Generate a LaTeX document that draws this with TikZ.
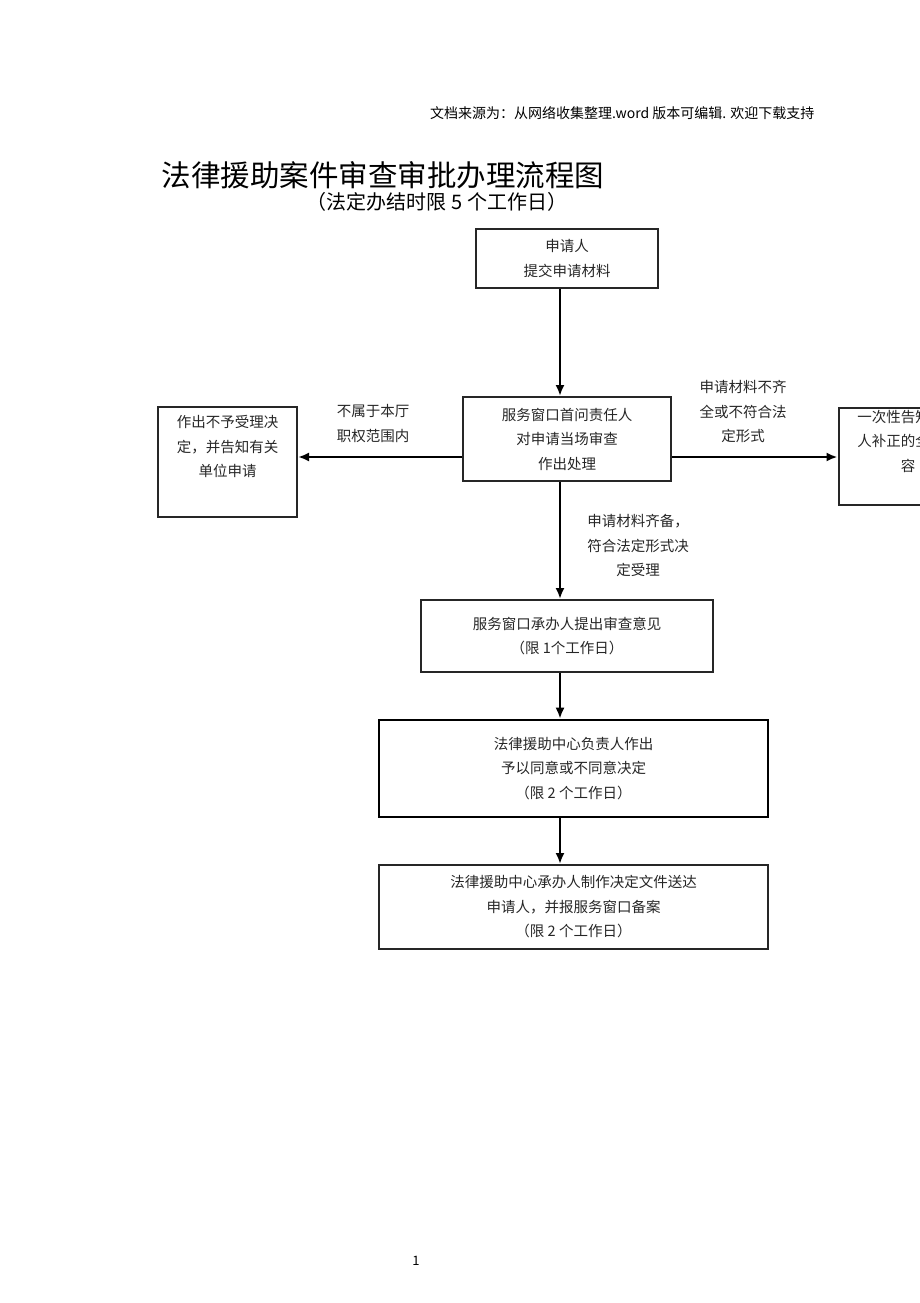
\documentclass[tikz,border=0pt]{standalone}
\usepackage{fontspec}
\setmainfont{Noto Sans CJK SC}
\usetikzlibrary{arrows.meta,positioning}

\begin{document}
\begin{tikzpicture}
		[x=1pt,y=-1pt,
		block/.style ={rectangle, draw=black!85, line width=2pt, align=center, inner sep=0pt, text=black!85, font=\fontsize{14.5}{24.5}\selectfont},
		thickblock/.style ={block, draw=black, line width=2.6pt},
		note/.style ={align=center, text=black!85, font=\fontsize{14.5}{24.5}\selectfont},
		line/.style ={draw, line width=2.8pt, -{Latex[length=11pt,width=9pt]}},
		]
		\useasboundingbox (0,0) rectangle (920,1303);

		\draw (818,113) node[anchor=east, font=\fontsize{14}{16}\selectfont] (src) {文档来源为：从网络收集整理.word 版本可编辑. 欢迎下载支持};
		\draw (158,175) node[anchor=west, font=\fontsize{29.5}{32}\selectfont] (title) {法律援助案件审查审批办理流程图};
		\draw (437,202) node[font=\fontsize{20}{22}\selectfont] (sub) {（法定办结时限 5 个工作日）};

		\draw (567,258.5) node[block, minimum width=182, minimum height=59] (app) {申请人\\提交申请材料};
		\draw (567,439) node[block, minimum width=208, minimum height=84] (svc) {服务窗口首问责任人\\对申请当场审查\\作出处理};
		\draw (227.5,462) node[block, minimum width=139, minimum height=110] (rej) {作出不予受理决\\定，并告知有关\\单位申请\\ \strut};
		\draw (908,456.5) node[block, minimum width=139, minimum height=97] (fix) {一次性告知申请\\人补正的全部内\\容\\ \strut};
		\draw (567,636) node[block, minimum width=292, minimum height=72] (opn) {服务窗口承办人提出审查意见\\（限 1个工作日）};
		\draw (573.5,768.5) node[thickblock, minimum width=389, minimum height=97] (dec) {法律援助中心负责人作出\\予以同意或不同意决定\\（限 2 个工作日）};
		\draw (573.5,907) node[block, minimum width=389, minimum height=84] (snd) {法律援助中心承办人制作决定文件送达\\申请人，并报服务窗口备案\\（限 2 个工作日）};

		\draw (373,423.5) node[note] (nrej) {不属于本厅\\职权范围内};
		\draw (743,411.5) node[note] (nfix) {申请材料不齐\\全或不符合法\\定形式};
		\draw (638,545.5) node[note] (nacc) {申请材料齐备，\\符合法定形式决\\定受理};

		\draw (416,1261) node[font=\fontsize{13}{15}\selectfont] (pg) {1};

		\coordinate (a1) at ([xshift=-7pt]app.south);
		\coordinate (a2) at ([xshift=-7pt]svc.south);
		\coordinate (a3) at ([xshift=-7pt]opn.south);
		\coordinate (a4) at ([xshift=-13.5pt]dec.south);
		\coordinate (wl) at ([yshift=-18pt]svc.west);
		\coordinate (wr) at ([yshift=-18pt]svc.east);

		\path
		(a1) edge[line] (a1 |- svc.north)
		(a2) edge[line] (a2 |- opn.north)
		(a3) edge[line] (a3 |- dec.north)
		(a4) edge[line] (a4 |- snd.north)
		(wl) edge[line] (wl -| rej.east)
		(wr) edge[line] (wr -| fix.west);

	\end{tikzpicture}
\end{document}
